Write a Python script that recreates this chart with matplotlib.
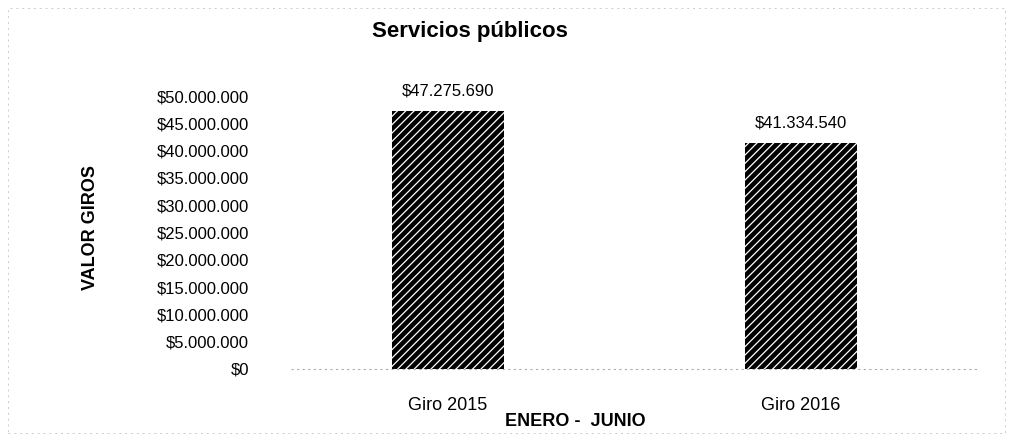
import matplotlib
matplotlib.use("Agg")
import matplotlib.pyplot as plt
from matplotlib.patches import Rectangle

categories = ["Giro 2015", "Giro 2016"]
values = [47275690, 41334540]
yticks = [0, 5000000, 10000000, 15000000, 20000000, 25000000,
          30000000, 35000000, 40000000, 45000000, 50000000]

def fmt(v):
    return "$" + f"{int(v):,}".replace(",", ".")

plt.rcParams['font.family'] = ['Liberation Sans', 'DejaVu Sans']
plt.rcParams['hatch.linewidth'] = 0.9
plt.rcParams['hatch.color'] = 'white'

fig = plt.figure(figsize=(10.13, 4.41), dpi=100)
ax = fig.add_axes([0.268, 0.1633, 0.697, 0.619])

x = list(range(len(categories)))
bars = ax.bar(x, values, width=0.315, color='black', edgecolor='white',
              linewidth=0, hatch='////')
for xi, v in zip(x, values):
    ax.annotate(fmt(v), (xi, v), xytext=(0, 9), textcoords='offset points',
                ha='center', va='bottom', fontsize=12)

ax.set_xlim(-0.5, 1.5)
ax.set_ylim(0, 50000000)
ax.set_yticks(yticks)
ax.set_yticklabels([fmt(t) for t in yticks], fontsize=12)
ax.set_xticks(x)
ax.set_xticklabels(categories, fontsize=13)
ax.tick_params(length=0)
ax.tick_params(axis='y', pad=16)
ax.tick_params(axis='x', pad=20)
for s in ax.spines.values():
    s.set_visible(False)
ax.plot([0.027, 1.0], [0, 0], transform=ax.get_yaxis_transform(),
        color='#aaaaaa', linestyle=(0, (2, 3)), linewidth=0.8, clip_on=False)

fig.text(470 / 1013, 1 - 32 / 441, "Servicios públicos", ha='center', va='center',
         fontsize=16, fontweight='bold')
fig.text(575 / 1013, 1 - 422 / 441, "ENERO -  JUNIO", ha='center', va='center',
         fontsize=13, fontweight='bold')
fig.text(90 / 1013, 1 - 228 / 441, "VALOR GIROS", ha='center', va='center',
         rotation=90, fontsize=13, fontweight='bold')

fig.patches.append(Rectangle((8 / 1013, 8 / 441), 997 / 1013, 425 / 441,
                             transform=fig.transFigure, fill=False,
                             edgecolor='#cccccc', linestyle=(0, (2, 4)),
                             linewidth=0.7))

fig.savefig("out.png", dpi=100)
